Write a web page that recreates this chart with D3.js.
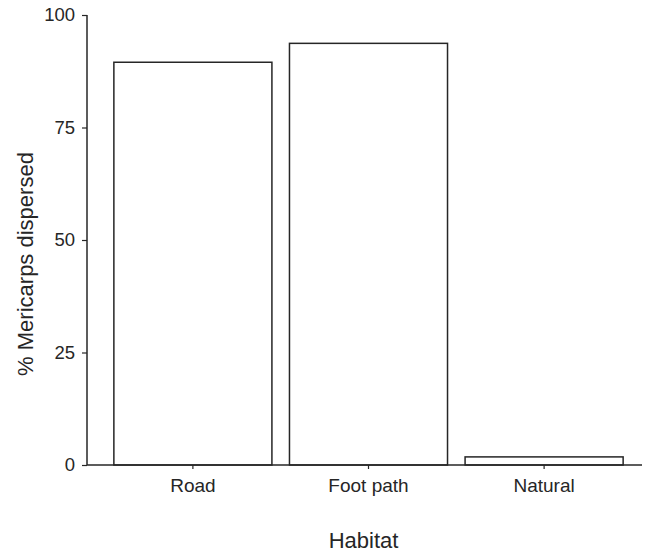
<!DOCTYPE html>
<html><head><meta charset="utf-8">
<script src="https://cdn.jsdelivr.net/npm/d3@7"></script>
<style>body{margin:0;background:#fff;} text{font-family:"Liberation Sans",Arial,sans-serif;fill:#262626;}</style>
</head><body>
<svg id="chart" width="651" height="554"></svg>
<script>
const categories = ["Road", "Foot path", "Natural"];
const values = [89.5, 93.7, 1.8];
const yTicks = [0, 25, 50, 75, 100];

const svg = d3.select("#chart");
const x0 = 87, x1 = 650, yTop = 15, yBot = 465;
const x = d3.scaleBand().domain(categories).range([x0, x1]).paddingInner(0.1).paddingOuter(0.153);
const y = d3.scaleLinear().domain([0, 100]).range([yBot, yTop]);
const col = "#262626";

svg.selectAll("rect.bar").data(categories).enter().append("rect")
  .attr("class", "bar")
  .attr("x", d => x(d))
  .attr("width", x.bandwidth())
  .attr("y", (d, i) => y(values[i]))
  .attr("height", (d, i) => y(0) - y(values[i]))
  .attr("fill", "#fff").attr("stroke", col).attr("stroke-width", 1.5);

const yAxis = svg.append("g").attr("transform", `translate(${x0},0)`)
  .call(d3.axisLeft(y).tickValues(yTicks).tickSize(5).tickPadding(7).tickFormat(d3.format("d")));
yAxis.select(".domain").attr("d", `M0,${yTop}V${yBot}`).attr("stroke", col).attr("stroke-width", 1.5);
yAxis.selectAll(".tick line").attr("stroke", col).attr("stroke-width", 1.2);
yAxis.selectAll("text").attr("font-size", 18.5).style("fill", col);

const xAxis = svg.append("g").attr("transform", `translate(0,${yBot})`)
  .call(d3.axisBottom(x).tickSize(4).tickPadding(10));
xAxis.select(".domain").attr("d", `M${x0},0H642`).attr("stroke", col).attr("stroke-width", 1.5);
xAxis.selectAll(".tick line").attr("stroke", col).attr("stroke-width", 1.2);
xAxis.selectAll("text").attr("font-size", 19).style("fill", col);

svg.append("text").attr("x", (x0 + 642) / 2 - 1).attr("y", 548).attr("text-anchor", "middle")
  .attr("font-size", 22).text("Habitat");
svg.append("text").attr("transform", `translate(33,${(yTop + yBot) / 2 + 24}) rotate(-90)`)
  .attr("text-anchor", "middle").attr("font-size", 22).text("% Mericarps dispersed");
</script>
</body></html>
